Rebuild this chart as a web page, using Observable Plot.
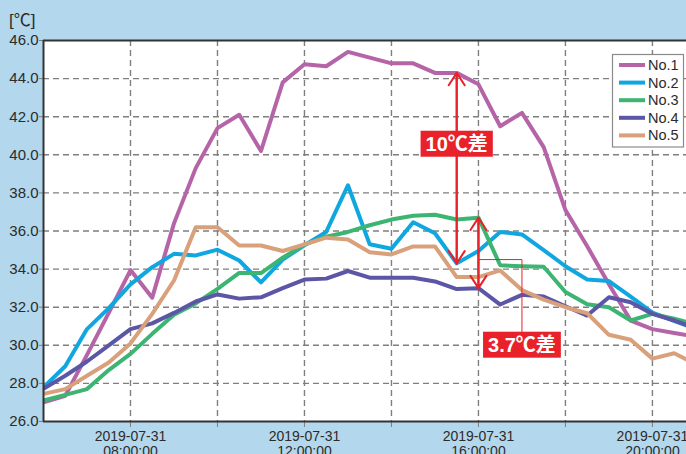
<!DOCTYPE html>
<html><head><meta charset="utf-8">
<script src="https://cdn.jsdelivr.net/npm/d3@7"></script>
<script src="https://cdn.jsdelivr.net/npm/@observablehq/plot@0.6"></script>
<style>
html,body{margin:0;padding:0;background:#b3d7ec;}
#chart{position:relative;width:686px;height:454px;overflow:hidden;}
</style></head><body><div id="chart"></div>
<script>
// ---- data ----
const date = "2019-07-31";
const times = ["06:00","06:30","07:00","07:30","08:00","08:30","09:00","09:30","10:00","10:30",
  "11:00","11:30","12:00","12:30","13:00","13:30","14:00","14:30","15:00","15:30",
  "16:00","16:30","17:00","17:30","18:00","18:30","19:00","19:30","20:00","20:30","21:00"];
const seriesNames = ["No.1","No.2","No.3","No.4","No.5"];
const seriesColors = ["#b565a7","#10a7e0","#3cb572","#5b56a6","#d9a07c"];
const no1 = [27.0,27.35,29.5,31.7,33.95,32.5,36.4,39.3,41.4,42.1,40.2,43.8,44.75,44.65,45.4,45.1,44.8,44.8,44.3,44.3,43.7,41.5,42.2,40.4,37.1,35.2,33.2,31.3,30.85,30.65,30.45];
const no2 = [27.8,28.9,30.85,31.95,33.2,34.1,34.8,34.72,35.02,34.45,33.3,34.5,35.25,35.95,38.4,35.3,35.07,36.46,35.88,34.3,34.95,35.95,35.82,35.0,34.15,33.45,33.37,32.55,31.72,31.28,30.85];
const no3 = [27.1,27.4,27.7,28.7,29.55,30.6,31.6,32.2,32.96,33.8,33.79,34.6,35.29,35.7,35.95,36.3,36.6,36.8,36.85,36.6,36.7,34.2,34.15,34.12,32.8,32.15,32.0,31.3,31.65,31.4,31.1];
const no4 = [27.72,28.4,29.15,30.0,30.85,31.15,31.7,32.3,32.67,32.45,32.52,33.0,33.45,33.5,33.9,33.55,33.55,33.55,33.35,32.95,33.0,32.14,32.65,32.56,32.05,31.56,32.52,32.26,31.65,31.3,30.9];
const no5 = [27.45,27.7,28.4,29.1,30.1,31.65,33.4,36.2,36.2,35.24,35.24,34.95,35.3,35.65,35.55,34.89,34.77,35.19,35.19,33.58,33.58,33.93,32.9,32.4,32.0,31.68,30.55,30.29,29.3,29.58,29.0];
const yTicks = [26,28,30,32,34,36,38,40,42,44,46];
const xTicks = ["08:00","10:00","12:00","14:00","16:00","18:00","20:00"];
const xLabelTicks = ["08:00","12:00","16:00","20:00"];
const xStart = "06:00", xEnd = "20:47";
const yUnit = "[℃]";
// annotations
const diff1 = {time: "15:30", top: "No.1", bottom: "No.2", label: "10℃差", labelValue: 40.55};
const diff2 = {time: "16:00", top: "No.3", bottom: "No.4", label: "3.7℃差", labelTime: "17:00", labelValue: 30.0, bendValue: 34.5};

// ---- build ----
const parse = t => new Date(`${date}T${t}:00Z`);
const fmtHM = d3.utcFormat("%H:%M");
const valuesBy = {"No.1": no1, "No.2": no2, "No.3": no3, "No.4": no4, "No.5": no5};
const rows = [];
seriesNames.forEach(s => valuesBy[s].forEach((v, j) => rows.push({series: s, time: parse(times[j]), value: v})));
const valAt = (s, t) => valuesBy[s][times.indexOf(t)];

function arrowRows(d) {
  const a = valAt(d.top, d.time), b = valAt(d.bottom, d.time), t = parse(d.time);
  return [{t, y1: a, y2: b}, {t, y1: b, y2: a}];
}
const red = "#e8212b";
const arrows = [...arrowRows(diff1), ...arrowRows(diff2)];
const connector = [
  {t: parse(diff2.time), v: diff2.bendValue},
  {t: parse(diff2.labelTime), v: diff2.bendValue},
  {t: parse(diff2.labelTime), v: diff2.labelValue}
];
const labels = [
  {t: parse(diff1.time), v: diff1.labelValue, text: diff1.label},
  {t: parse(diff2.labelTime), v: diff2.labelValue, text: diff2.label}
];

const gridStyle = {stroke: "#7f7f7f", strokeOpacity: 1, strokeWidth: 1.4, strokeDasharray: "6,4"};
const font = "'Liberation Sans', Arial, 'Noto Sans CJK JP', sans-serif";

const chart = Plot.plot({
  width: 686, height: 454,
  marginLeft: 43, marginRight: 0, marginTop: 40, marginBottom: 33,
  style: {background: "transparent", fontFamily: font, fontSize: "14px", overflow: "visible"},
  x: {type: "utc", domain: [parse(xStart), parse(xEnd)]},
  y: {domain: [26, 46]},
  color: {domain: seriesNames, range: seriesColors},
  marks: [
    Plot.frame({fill: "white", stroke: "none"}),
    Plot.gridY(yTicks.slice(1, -1), gridStyle),
    Plot.gridX(xTicks.map(parse), gridStyle),
    Plot.axisY(yTicks, {tickSize: 4, tickPadding: 1, tickFormat: d => d.toFixed(1), stroke: "#7f7f7f", fill: "#2b2b2b", fontSize: 15, label: null}),
    Plot.axisX(xTicks.map(parse), {tickSize: 6, tickPadding: 3, lineHeight: 1.08, stroke: "#7f7f7f", fill: "#2b2b2b", fontSize: 14, label: null,
      tickFormat: d => xLabelTicks.includes(fmtHM(d)) ? `${date}\n${fmtHM(d)}:00` : ""}),
    Plot.line(rows, {x: "time", y: "value", z: "series", stroke: "series", strokeWidth: 4, strokeLinejoin: "round", clip: true}),
    Plot.ruleX([parse(xStart)], {stroke: "#333", strokeWidth: 2}),
    Plot.ruleY([46, 26], {stroke: "#333", strokeWidth: 2}),
    Plot.line(connector, {x: "t", y: "v", stroke: red, strokeWidth: 1}),
    Plot.arrow(arrows, {x: "t", y1: "y1", y2: "y2", stroke: red, strokeWidth: 2, headLength: 11, headAngle: 66}),
    Plot.text(labels, {x: "t", y: "v", text: "text", fill: "white", fontSize: 20, fontWeight: "bold"})
  ]
});
document.getElementById("chart").appendChild(chart);

// label backgrounds (same local transform as each text)
const svg = d3.select(chart);
svg.selectAll('g[aria-label="text"] text').each(function() {
  const bb = this.getBBox();
  const cx = bb.x + bb.width / 2, cy = bb.y + bb.height / 2;
  const w = bb.width + 10, h = 26;
  const rect = document.createElementNS("http://www.w3.org/2000/svg", "rect");
  this.parentNode.insertBefore(rect, this);
  d3.select(rect)
    .attr("transform", this.getAttribute("transform"))
    .attr("x", cx - w / 2).attr("y", cy - h / 2).attr("width", w).attr("height", h).attr("fill", red);
});

// unit label
svg.append("text").attr("x", 9).attr("y", 26).attr("fill", "#2b2b2b").attr("text-anchor", "start")
  .attr("font-size", 17).attr("font-family", font).text(yUnit);

// legend
const lg = svg.append("g").attr("font-family", font).attr("font-size", 14.5).attr("text-anchor", "start");
lg.append("rect").attr("x", 612.5).attr("y", 54.5).attr("width", 71).attr("height", 92.5)
  .attr("fill", "white").attr("stroke", "#8a8a8a").attr("stroke-width", 1.2);
seriesNames.forEach((s, i) => {
  const y = 65 + i * 17.6;
  lg.append("line").attr("x1", 619).attr("x2", 645).attr("y1", y).attr("y2", y)
    .attr("stroke", seriesColors[i]).attr("stroke-width", 4);
  lg.append("text").attr("x", 648).attr("y", y + 5).attr("fill", "#2b2b2b").text(s);
});
</script></body></html>
